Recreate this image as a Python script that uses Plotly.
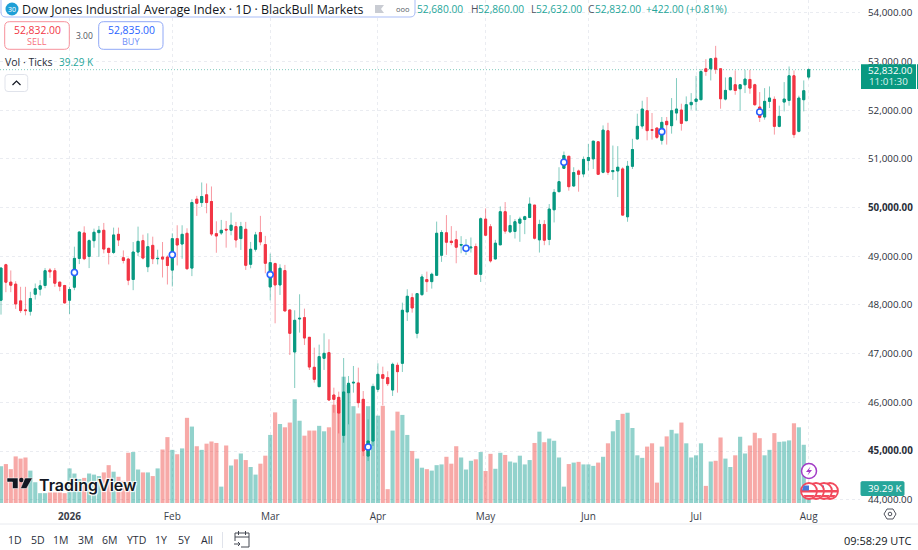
import pandas as pd
import plotly.graph_objects as go

opens = [48097,48825,48468,48427,48083,47898,47870,48221,48324,48399,48715,48702,48468,48399,48097,48365,48956,49478,48997,49320,
49485,49533,49162,49079,49450,48969,48942,48523,49086,49320,48784,49223,48949,48983,48983,48715,49361,49251,49471,48757,
50172,50103,50261,50124,49464,49478,49553,49534,49609,49363,49554,48835,49144,49486,49239,48369,48849,48411,48705,47897,
47034,47712,47739,47335,46719,46321,46904,47020,46150,46102,45321,46198,46397,46397,46061,44896,45205,46266,46568,46506,
46253,46760,46801,47856,48150,47417,48212,48520,48479,48609,49021,49481,49309,49337,49227,49158,49172,49200,48629,49763,
49605,48945,49234,49914,49502,49509,49680,49756,49797,50051,49337,49653,49344,49955,50326,50807,51054,50443,50752,50690,
50965,51000,51350,50725,51577,50738,50752,50793,49811,50848,51409,51675,51989,51600,51634,51381,51771,51682,51942,52003,
51784,52112,52180,52215,52850,52850,53068,52850,52228,52420,52522,52440,52522,52631,52522,52064,51860,52181,52222,51668,
52167,52201,52706,51566,52215,52680]
closes = [48757,48468,48406,48021,47884,47884,48131,48331,48392,48702,48681,48447,48385,48042,48317,48956,49498,48949,49320,49492,
49533,49148,49079,49437,49334,48914,48509,49086,49306,48963,49196,48949,48956,48942,48811,49361,49231,49450,48743,50103,
50089,50227,50103,49457,49416,49533,49540,49637,49335,49609,48815,49144,49438,49294,48856,48869,48411,48753,47876,47417,
47684,47725,47321,46725,46472,46938,47006,46047,46061,45780,46212,46390,46410,45992,45000,45205,46321,46575,46493,46383,
46780,46630,47890,48178,47938,48232,48575,48479,48630,49472,49488,49289,49282,49186,49241,49186,49186,48629,49770,49433,
48904,49268,49914,49516,49632,49708,49763,49811,50072,49371,49653,49330,49969,50312,50532,51068,50429,50718,50683,50986,
51027,51364,50683,51590,50725,50759,50828,49845,50848,51192,51668,52023,51580,51586,51443,51750,51702,51989,52023,51730,
52112,52160,52228,52795,52795,53055,52843,52235,52406,52665,52406,52522,52638,52454,52112,51853,52181,52249,51668,51873,
52228,52706,51498,52249,52399,52832]
highs = [48770,48846,48708,48488,48372,48372,48269,48440,48509,48757,48757,48757,48475,48413,48372,49196,49505,49615,49347,49567,
49622,49684,49176,49588,49588,49120,48969,49292,49608,49443,49471,49402,49134,49292,49018,49471,49636,49636,49574,50172,
50240,50515,50495,50433,49718,49746,49725,49897,49705,49705,49705,49294,49500,49829,49418,49054,48869,48835,48822,47897,
47890,48219,47924,47335,47123,47184,47417,47294,46301,46219,46910,46540,46746,46712,46232,45650,46383,46801,46732,46637,
46815,46815,48047,48322,48239,48240,48630,48685,48664,49712,49536,49845,49619,49522,49413,49351,49385,49261,49797,49983,
49660,49337,50024,50113,49845,49763,49811,49832,50209,50051,49749,49742,50072,50381,50828,51151,51054,50828,50780,51048,
51309,51364,51364,51687,51741,51274,51261,50828,50958,51412,51928,52194,52269,51942,51634,51860,51860,52249,52659,52133,
52283,52351,52706,52843,53048,53068,53321,52850,52672,52686,52816,52530,52829,52829,52543,52372,52454,52488,52283,52092,
52577,52898,52816,52297,52611,52860]
lows = [47802,48262,48262,47918,47836,47788,47781,48111,48193,48344,48557,48372,48282,48028,47815,48303,48839,48921,48757,49176,
48990,49059,48832,49045,49210,48853,48406,48303,49004,48935,48674,48839,48832,48564,48420,48379,48811,48949,48729,48592,
49828,50014,49883,49416,49072,49437,49176,49431,49178,49130,48719,48753,49096,49226,48650,48095,47623,48205,47876,46972,
46294,47431,47177,46664,46404,46315,46664,46040,45787,45362,45171,45547,46198,45890,44896,44794,45102,46212,45938,46335,
46130,46198,46623,47671,47842,47315,48185,48267,48335,48609,48884,49028,49227,48856,49062,49028,49076,48629,48471,49419,
48870,48932,49234,49461,49474,49364,49296,49454,49783,49344,49076,49227,49227,49694,50326,50793,50347,50429,50326,50622,
50759,50793,50670,50704,50670,50567,50216,49832,49708,50793,51395,51620,51381,51395,51409,51293,51293,51518,51791,51580,
51771,52010,51989,52215,52706,52611,52747,52030,52201,52406,52317,51989,52351,52338,52092,51757,51805,52044,51498,51648,
51976,52092,51429,51545,51976,52632]
volumes_k = [101,107,93,128,122,125,89,57,27,27,29,29,29,27,95,81,66,69,81,78,
74,84,104,86,72,61,138,140,92,84,84,74,95,147,181,146,134,150,234,210,
156,146,163,169,165,45,158,103,120,136,118,99,78,108,130,187,249,217,208,221,
285,226,185,199,199,212,197,208,270,283,347,325,266,246,142,266,322,240,267,38,
199,251,242,187,143,122,97,93,89,104,106,127,108,156,125,92,116,120,140,88,
135,94,138,132,114,111,130,106,118,165,196,167,177,171,125,45,107,111,113,106,
106,102,111,127,164,197,228,245,248,206,131,124,155,164,56,155,183,201,191,221,
164,125,131,164,47,114,116,180,122,99,131,182,136,158,193,178,131,146,192,168,
169,172,219,208,160,39.29]
event_idx = [15,35,55,75,95,115,135,155]
event_price = [48667,49031,48623,45081,49165,50931,51559,51962]
month_idx = [14,35,55,77,99,120,142,165]
month_labels = ["<b>2026</b>","Feb","Mar","Apr","May","Jun","Jul","Aug"]
price_ticks = [44000,45000,46000,47000,48000,49000,50000,51000,52000,53000,54000]
range_buttons = ["1D","5D","1M","3M","6M","YTD","1Y","5Y","All"]
range_button_x = [15,38,61,85,109,136,161,184,207]

dates = [d.strftime("%Y-%m-%d") for d in pd.bdate_range("2025-12-12","2026-08-03") if d != pd.Timestamp("2026-01-01")]
assert len(dates)==len(opens)==len(closes)==len(highs)==len(lows)==len(volumes_k)

W,H=918,550
PL,PR,PT,PB=0,58,0,47
PW,PH=W-PL-PR,H-PT-PB
def X(p): return (p-PL)/PW
def Y(p): return 1-(p-PT)/PH

UP="#089981"; DN="#F23645"; TXT="#131722"; GRID="#eaecf1"
FONT="Open Sans"

fig=go.Figure()
vol_colors=["rgba(38,166,154,0.5)" if c>=o else "rgba(239,83,80,0.5)" for o,c in zip(opens,closes)]
fig.add_trace(go.Bar(x=dates,y=volumes_k,marker=dict(color=vol_colors,line=dict(width=0)),yaxis="y",hoverinfo="skip"))
fig.add_trace(go.Candlestick(x=dates,open=opens,high=highs,low=lows,close=closes,yaxis="y2",whiskerwidth=0,
    increasing=dict(line=dict(color="rgba(8,153,129,0.5)",width=1),fillcolor=UP),
    decreasing=dict(line=dict(color="rgba(242,54,69,0.5)",width=1),fillcolor=DN)))
fig.add_trace(go.Candlestick(x=dates,open=opens,close=closes,
    high=[max(o,c) for o,c in zip(opens,closes)],low=[min(o,c) for o,c in zip(opens,closes)],yaxis="y2",whiskerwidth=0,
    increasing=dict(line=dict(color=UP,width=1),fillcolor=UP),
    decreasing=dict(line=dict(color=DN,width=1),fillcolor=DN)))
fig.add_trace(go.Scatter(x=[dates[i] for i in event_idx],y=event_price,mode="markers",yaxis="y2",
    marker=dict(symbol="circle",size=6,color="white",line=dict(color="#2962FF",width=1.6)),hoverinfo="skip"))

shapes=[]; ann=[]
def rrect(x0,y0,x1,y1,r,line,fill="white",lw=1):
    d=(f"M{X(x0+r)},{Y(y0)} L{X(x1-r)},{Y(y0)} Q{X(x1)},{Y(y0)} {X(x1)},{Y(y0+r)} L{X(x1)},{Y(y1-r)} Q{X(x1)},{Y(y1)} {X(x1-r)},{Y(y1)} "
       f"L{X(x0+r)},{Y(y1)} Q{X(x0)},{Y(y1)} {X(x0)},{Y(y1-r)} L{X(x0)},{Y(y0+r)} Q{X(x0)},{Y(y0)} {X(x0+r)},{Y(y0)} Z")
    shapes.append(dict(type="path",xref="paper",yref="paper",path=d,line=dict(color=line,width=lw),fillcolor=fill,layer="above"))
def poly(pts,fill=None,line=None,lw=1,close=True):
    d="M"+" L".join(f"{X(a)},{Y(b)}" for a,b in pts)+(" Z" if close else "")
    shapes.append(dict(type="path",xref="paper",yref="paper",path=d,fillcolor=fill if fill else "rgba(0,0,0,0)",
        line=dict(color=line if line else "rgba(0,0,0,0)",width=lw if line else 0),layer="above"))
def circ(cx,cy,r,fill,line=None,lw=1):
    shapes.append(dict(type="circle",xref="paper",yref="paper",x0=X(cx-r),x1=X(cx+r),y0=Y(cy+r),y1=Y(cy-r),fillcolor=fill,
        line=dict(color=line if line else "rgba(0,0,0,0)",width=lw if line else 0),layer="above"))
def txt(x,y,s,size=11,color=TXT,anchor="left",bold=False,family=FONT):
    ann.append(dict(xref="paper",yref="paper",x=X(x),y=Y(y),text=f"<b>{s}</b>" if bold else s,showarrow=False,xanchor=anchor,yanchor="middle",
        font=dict(size=size,color=color,family=family),borderpad=0,borderwidth=0,align=anchor))

# last price line
shapes.append(dict(type="line",xref="paper",yref="y2",x0=0,x1=1,y0=closes[-1],y1=closes[-1],line=dict(color="rgba(8,153,129,0.5)",width=1,dash="1px,2px"),layer="below"))

# header
rrect(1,-6,415,17,5,"#a9bdf7","white",1)
circ(12,9,6.5,"#1e9fd6")
txt(12,9,"30",7,"white","center")
txt(22,9,"Dow Jones Industrial Average Index · 1D · BlackBull Markets",12.4,TXT)
poly([(375,5),(384,5),(381,9),(384,13),(375,13)],fill="#c9ccd3")
txt(396,8.5,"ooo",7.5,"#555a66","left")
txt(417,9,"52,680.00",10.2,"#26a69a")
txt(470.5,9,"H",10.2,"#50535e"); txt(478,9,"52,860.00",10.2,"#26a69a")
txt(530.5,9,"L",10.2,"#50535e"); txt(536,9,"52,632.00",10.2,"#26a69a")
txt(587.5,9,"C",10.2,"#50535e"); txt(595,9,"52,832.00",10.2,"#26a69a")
txt(646,9,"+422.00 (+0.81%)",10.2,"#26a69a")
# sell / buy
rrect(4.7,21.7,69.3,49.3,5,"#f7919b","white",1)
txt(37,29.5,"52,832.00",10.4,DN,"center"); txt(37,41.5,"SELL",9,"#f7707c","center")
rrect(98.7,21.7,163,49.3,5,"#90a8f7","white",1)
txt(131,29.5,"52,835.00",10.4,"#2962FF","center"); txt(131,41.5,"BUY",9,"#6f8ef8","center")
txt(84,35,"3.00",8.5,"#50535e","center")
txt(4.5,62.3,"Vol · Ticks",10.5,"#2a2e39")
txt(59,62.3,"39.29 K",10,"#26a69a")
rrect(5,74.5,27.7,91.5,3,"#e0e3eb","white",1)
poly([(12.5,85),(16.5,81),(20.5,85)],line=TXT,lw=1.2,close=False)

# price label
poly([(861,64.3),(916,64.3),(916,89),(861,89)],fill=UP)
poly([(917,64.3),(918,64.3),(918,89),(917,89)],fill=UP)
txt(890,70.5,"52,832.00",9.8,"white","center")
txt(888,82,"11:01:30",9.8,"#dff3ef","center")
# volume label
rrect(861,481.7,904,495.5,1,"#26a69a","#26a69a",1)
txt(884.5,488.7,"39.29 K",9.8,"white","center")

# logo (TradingView)
poly([(7,478),(18,478),(18,488.5),(12.5,488.5),(12.5,482),(7,482)],fill="#131722",line="white",lw=0.5)
circ(21.3,480,2.2,"#131722")
poly([(25,478),(32.5,478),(26.5,488.5),(20.5,488.5)],fill="#131722",line="white",lw=0.5)
ann.append(dict(xref="paper",yref="paper",x=X(37),y=Y(485),text="TradingView",showarrow=False,xanchor="left",yanchor="middle",
    font=dict(size=16,color="#131722",family="Inter",weight=600,shadow="1px 1px 1px white, -1px -1px 1px white, 1px -1px 1px white, -1px 1px 1px white")))

# events
for cx in [830,824,816,809]:
    circ(cx,491,8,"white","#f2495c",1.8)
    poly([(cx-7,490),(cx+7,490),(cx+7,492.5),(cx-7,492.5)],fill="#f2495c")
    poly([(cx-5.5,495),(cx+5.5,495),(cx+4,497.2),(cx-4,497.2)],fill="#f2495c")
    poly([(cx-5.5,485.5),(cx,485.5),(cx,490.5),(cx-7,490.5)],fill="#4778d9")
circ(809,471,7.5,"white","#a23bc6",1.5)
poly([(810.5,466.5),(806,472),(809,472),(807.5,475.5),(812,470),(809,470)],fill="#a23bc6")

# bottom strip
poly([(0,524),(918,524)],line="#e8eaef",lw=1,close=False)
for s,x in zip(range_buttons,range_button_x):
    txt(x,540,s,10.5,"#2a2e39","center")
poly([(222.5,532),(222.5,548)],line="#e0e3eb",lw=1,close=False)
poly([(235,541),(235,533),(249,533),(249,547),(241,547)],line="#444852",lw=1,close=False)
poly([(235,537),(249,537)],line="#444852",lw=1,close=False)
poly([(238.5,531),(238.5,535)],line="#444852",lw=1,close=False)
poly([(245.5,531),(245.5,535)],line="#444852",lw=1,close=False)
poly([(234,544),(240,544)],line="#444852",lw=1,close=False)
poly([(238,542),(240,544),(238,546)],line="#444852",lw=1,close=False)
txt(911,540,"09:58:29 UTC",11,TXT,"right")
poly([(884,514),(887,509),(893,509),(896,514),(893,519),(887,519)],line="#50535e",lw=1)
circ(890,514,1.8,"white","#50535e",1)

fig.update_layout(width=W,height=H,margin=dict(l=PL,r=PR,t=PT,b=PB,pad=0,autoexpand=False),paper_bgcolor="white",plot_bgcolor="white",
    showlegend=False,boxmode="overlay",boxgap=0.4,bargap=0.15,font=dict(family=FONT,color=TXT),shapes=shapes,annotations=ann,
    xaxis=dict(type="category",automargin=False,range=[-0.204,175.49],rangeslider=dict(visible=False),tickmode="array",
        tickvals=[dates[i] for i in month_idx],ticktext=month_labels,tickfont=dict(size=10,color="#3a3e4a",family=FONT),
        showgrid=True,gridcolor=GRID,griddash="dot",gridwidth=1,ticks="outside",ticklen=4,tickcolor="white",showline=False,zeroline=False),
    yaxis=dict(range=[0,1382],automargin=False,visible=False,showgrid=False,zeroline=False),
    yaxis2=dict(overlaying="y",automargin=False,side="right",range=[43932,54263],tickmode="array",tickvals=price_ticks,
        ticktext=[f"<b>{v:,.2f}</b>" if v in (45000,50000) else f"{v:,.2f}" for v in price_ticks],
        tickfont=dict(size=9.8,color="#2a2e39",family=FONT),showgrid=True,gridcolor=GRID,griddash="dot",gridwidth=1,
        ticks="outside",ticklen=5,tickcolor="white",showline=False,zeroline=False))
fig.write_html("out.html",config=dict(displayModeBar=False),post_script="document.body.style.margin='0';document.body.style.overflow='hidden';")
